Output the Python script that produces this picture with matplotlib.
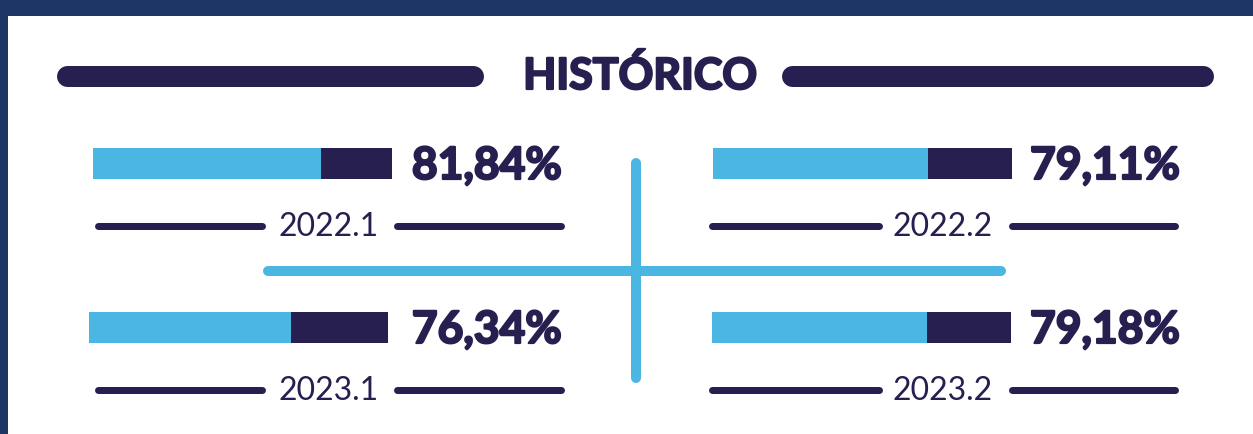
import matplotlib.pyplot as plt
import matplotlib.patheffects as pe
from matplotlib.patches import Rectangle

# data
periods = ['2022.1', '2022.2', '2023.1', '2023.2']
rates = [81.84, 79.11, 76.34, 79.18]
rate_labels = ['81,84%', '79,11%', '76,34%', '79,18%']

NAVY = '#261f4f'
SKY = '#4cb6e3'
FRAME = '#1d3564'
FONT = ['Lato', 'DejaVu Sans']
# heavier look for the bold texts
heavy = [pe.withStroke(linewidth=1.6, foreground=NAVY)]

W, H = 1253, 434
PX = 72 / 100  # points per pixel at dpi 100

fig = plt.figure(figsize=(W / 100, H / 100), dpi=100)
bg = fig.add_axes([0, 0, 1, 1])
bg.set_xlim(0, W)
bg.set_ylim(H, 0)
bg.axis('off')

# dark frame (top band + left edge)
bg.add_patch(Rectangle((0, 0), W, 16, color=FRAME, lw=0))
bg.add_patch(Rectangle((0, 0), 8, H, color=FRAME, lw=0))

# title with rounded rules on both sides
bg.plot([66.5, 472.5], [76, 76], color=NAVY, lw=21 * PX, solid_capstyle='round')
bg.plot([791.5, 1202.5], [76, 76], color=NAVY, lw=21 * PX, solid_capstyle='round')
bg.text(640, 89, 'HISTÓRICO', ha='center', va='baseline', fontsize=31,
        fontweight='bold', family=FONT, color=NAVY, path_effects=heavy)

# light blue cross
bg.plot([268, 1001], [271, 271], color=SKY, lw=10 * PX, solid_capstyle='round')
bg.plot([635.5, 635.5], [163, 378], color=SKY, lw=10 * PX, solid_capstyle='round')

# layout of the 2x2 panels
bar_x = [[93, 713], [89, 712]]
bar_y = [148, 312]
bar_w, bar_h = 299, 31
pct_cx = [487, 1105]
lab_cx = [329, 943]
lab_lines = [[(94, 265), (393, 564)], [(708, 882), (1008, 1178)]]
lab_y = [226, 390]

for i, (per, val, txt) in enumerate(zip(periods, rates, rate_labels)):
    r, c = divmod(i, 2)
    x0, y0 = bar_x[r][c], bar_y[r]
    ax = fig.add_axes([x0 / W, 1 - (y0 + bar_h) / H, bar_w / W, bar_h / H])
    ax.barh(0, 100, height=1, color=NAVY)
    ax.barh(0, val, height=1, color=SKY)
    # axis window of the source graphic (bars don't start at zero)
    ax.set_xlim(32, 97.5)
    ax.set_ylim(-0.5, 0.5)
    ax.axis('off')

    bg.text(pct_cx[c], y0 + bar_h, txt, ha='center', va='baseline', fontsize=32,
            fontweight='bold', family=FONT, color=NAVY, path_effects=heavy)

    for a, b in lab_lines[c]:
        bg.plot([a + 3.5, b - 3.5], [lab_y[r], lab_y[r]], color=NAVY, lw=7 * PX,
                solid_capstyle='round')
    bg.text(lab_cx[c], lab_y[r] + 10, per, ha='center', va='baseline', fontsize=23,
            fontweight='normal', family=FONT, color=NAVY)

fig.savefig('out.png', dpi=100)
